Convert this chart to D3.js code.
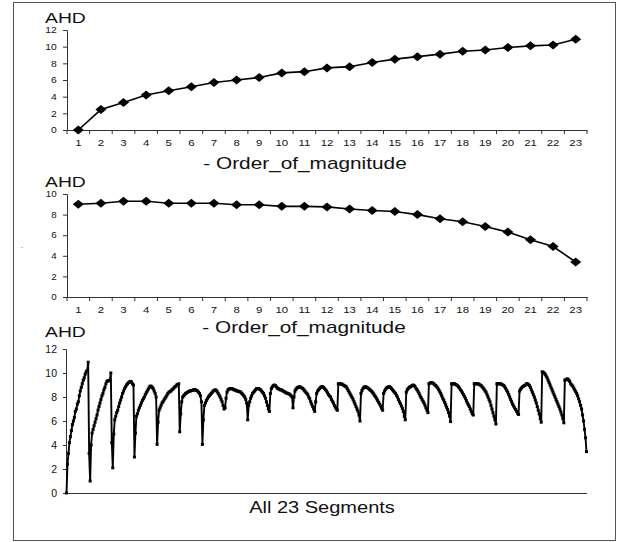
<!DOCTYPE html>
<html>
<head>
<meta charset="utf-8">
<script src="https://cdn.jsdelivr.net/npm/d3@7.9.0/dist/d3.min.js"></script>
<style>
  html, body { margin: 0; padding: 0; background: #fff; }
  svg { display: block; font-family: "Liberation Sans", Arial, Helvetica, sans-serif; }
</style>
</head>
<body>
<svg id="chart" width="622" height="542"></svg>
<script>
// ---- data ----
const orders = [1, 2, 3, 4, 5, 6, 7, 8, 9, 10, 11, 12, 13, 14, 15, 16, 17, 18, 19, 20, 21, 22, 23];
const firstSegmentAHD = [0, 2.45, 3.3, 4.2, 4.7, 5.2, 5.7, 6.0, 6.3, 6.85, 7.0, 7.45, 7.6, 8.1, 8.5, 8.8, 9.1, 9.45, 9.6, 9.9, 10.1, 10.2, 10.9];
const lastSegmentAHD = [9.0, 9.1, 9.3, 9.3, 9.1, 9.1, 9.1, 8.95, 8.95, 8.8, 8.8, 8.75, 8.55, 8.4, 8.3, 8.0, 7.6, 7.3, 6.85, 6.3, 5.55, 4.9, 3.4];

const topTicks = [0, 2, 4, 6, 8, 10, 12];
const midTicks = [0, 2, 4, 6, 8, 10];
const bottomTicks = [0, 2, 4, 6, 8, 10, 12];

// all 23 segments, 23 points each
const allSegments = [
  [0, 2.4, 3.3, 4.2, 4.7, 5.2, 5.7, 6.0, 6.3, 6.8, 7.0, 7.4, 7.6, 8.1, 8.5, 8.8, 9.1, 9.4, 9.6, 9.9, 10.1, 10.2, 10.9],
  [3.3, 1.0, 4.0, 5.0, 5.3, 5.6, 5.9, 6.2, 6.5, 6.9, 7.2, 7.5, 7.8, 8.1, 8.3, 8.6, 8.8, 9.1, 9.3, 9.35, 9.35, 9.4, 10.0],
  [4.2, 2.1, 4.9, 6.1, 6.4, 6.7, 6.9, 7.2, 7.5, 7.75, 8.0, 8.3, 8.5, 8.7, 8.85, 9.0, 9.1, 9.2, 9.25, 9.3, 9.25, 9.1, 9.0],
  [3.0, 5.0, 6.4, 6.6, 6.9, 7.1, 7.3, 7.5, 7.7, 7.85, 8.0, 8.2, 8.35, 8.5, 8.65, 8.8, 8.9, 8.9, 8.8, 8.7, 8.5, 8.3, 8.0],
  [4.05, 5.9, 6.9, 7.1, 7.3, 7.5, 7.6, 7.75, 7.9, 8.0, 8.15, 8.3, 8.4, 8.45, 8.5, 8.6, 8.65, 8.75, 8.85, 8.9, 9.0, 9.05, 9.1],
  [5.1, 6.6, 7.6, 8.0, 8.1, 8.2, 8.3, 8.35, 8.4, 8.45, 8.5, 8.5, 8.55, 8.55, 8.6, 8.6, 8.6, 8.55, 8.5, 8.4, 8.3, 8.1, 7.6],
  [4.05, 6.1, 7.3, 7.5, 7.7, 7.85, 8.0, 8.1, 8.2, 8.3, 8.4, 8.5, 8.55, 8.6, 8.55, 8.45, 8.3, 8.15, 8.0, 7.8, 7.6, 7.3, 7.0],
  [7.1, 7.9, 8.4, 8.6, 8.65, 8.7, 8.7, 8.7, 8.65, 8.6, 8.6, 8.55, 8.5, 8.5, 8.45, 8.45, 8.4, 8.3, 8.2, 8.1, 8.0, 7.8, 7.5],
  [6.1, 7.3, 7.6, 7.9, 8.1, 8.3, 8.4, 8.5, 8.6, 8.7, 8.7, 8.7, 8.65, 8.6, 8.5, 8.4, 8.3, 8.1, 7.9, 7.6, 7.3, 7.0, 6.8],
  [8.3, 8.7, 8.85, 8.95, 9.0, 8.95, 8.85, 8.75, 8.7, 8.65, 8.6, 8.6, 8.55, 8.5, 8.45, 8.4, 8.35, 8.3, 8.3, 8.25, 8.2, 8.1, 8.0],
  [7.1, 8.0, 8.5, 8.65, 8.75, 8.8, 8.85, 8.85, 8.8, 8.75, 8.7, 8.6, 8.5, 8.4, 8.3, 8.2, 8.0, 7.85, 7.6, 7.4, 7.2, 7.0, 6.8],
  [7.6, 8.3, 8.5, 8.6, 8.7, 8.8, 8.85, 8.85, 8.8, 8.7, 8.6, 8.5, 8.35, 8.2, 8.1, 8.0, 7.8, 7.65, 7.5, 7.3, 7.15, 7.0, 6.9],
  [9.1, 9.1, 9.1, 9.1, 9.05, 9.0, 8.95, 8.9, 8.85, 8.7, 8.55, 8.4, 8.25, 8.1, 7.95, 7.8, 7.6, 7.4, 7.2, 7.0, 6.8, 6.5, 6.0],
  [8.3, 8.55, 8.7, 8.8, 8.85, 8.85, 8.8, 8.75, 8.7, 8.6, 8.55, 8.45, 8.35, 8.25, 8.1, 8.0, 7.85, 7.7, 7.55, 7.4, 7.25, 7.05, 6.9],
  [8.3, 8.5, 8.65, 8.75, 8.8, 8.85, 8.85, 8.8, 8.7, 8.6, 8.5, 8.4, 8.3, 8.15, 8.0, 7.8, 7.6, 7.45, 7.25, 7.05, 6.8, 6.4, 6.1],
  [8.4, 8.6, 8.7, 8.8, 8.85, 8.9, 8.95, 9.0, 8.95, 8.85, 8.7, 8.6, 8.45, 8.3, 8.1, 7.95, 7.8, 7.65, 7.5, 7.3, 7.1, 6.9, 6.7],
  [9.1, 9.15, 9.2, 9.2, 9.15, 9.1, 9.0, 8.95, 8.85, 8.75, 8.6, 8.45, 8.3, 8.1, 7.9, 7.75, 7.55, 7.35, 7.15, 6.95, 6.7, 6.4, 5.95],
  [9.1, 9.1, 9.1, 9.1, 9.05, 9.0, 8.95, 8.85, 8.75, 8.6, 8.5, 8.35, 8.2, 8.05, 7.9, 7.7, 7.5, 7.35, 7.2, 7.0, 6.8, 6.6, 6.5],
  [9.1, 9.1, 9.1, 9.1, 9.1, 9.05, 9.0, 8.95, 8.85, 8.75, 8.65, 8.5, 8.4, 8.2, 8.0, 7.8, 7.6, 7.3, 7.0, 6.7, 6.4, 6.1, 5.75],
  [9.1, 9.1, 9.1, 9.1, 9.1, 9.05, 9.0, 8.95, 8.85, 8.7, 8.55, 8.4, 8.2, 8.0, 7.8, 7.6, 7.4, 7.25, 7.1, 6.95, 6.8, 6.65, 6.55],
  [8.5, 8.65, 8.75, 8.85, 8.9, 8.95, 9.0, 9.1, 9.1, 9.05, 8.95, 8.8, 8.6, 8.4, 8.2, 8.0, 7.75, 7.5, 7.2, 6.9, 6.6, 6.2, 5.9],
  [10.1, 10.05, 10.0, 9.9, 9.75, 9.6, 9.4, 9.2, 9.0, 8.8, 8.6, 8.4, 8.2, 8.0, 7.8, 7.6, 7.4, 7.2, 7.0, 6.75, 6.5, 6.2, 5.85],
  [9.4, 9.45, 9.5, 9.5, 9.4, 9.3, 9.1, 9.0, 8.9, 8.75, 8.6, 8.45, 8.3, 8.1, 7.85, 7.6, 7.3, 7.0, 6.5, 6.0, 5.3, 4.6, 3.45]
];

const svg = d3.select('#chart');

// ---- frame ----
svg.append('rect')
  .attr('x', 13.5).attr('y', 2.5)
  .attr('width', 602).attr('height', 538)
  .attr('fill', 'none')
  .attr('stroke', '#555')
  .attr('stroke-width', 1);

// stray dot left of the middle panel
svg.append('text').attr('x', 21).attr('y', 248)
  .attr('font-size', 8).attr('fill', '#444').text('.');

// stretched text helper (the original text is drawn wide)
function label(x, y, str, size, sx, anchor) {
  return svg.append('text')
    .attr('transform', `translate(${x},${y}) scale(${sx},1)`)
    .attr('text-anchor', anchor || 'middle')
    .attr('font-size', size)
    .attr('fill', '#111')
    .text(str);
}

// ---- small order-of-magnitude panels ----
function orderPanel(values, yMax, yTicks, top, bottom, tickFont) {
  const x = d3.scaleBand().domain(orders).range([67, 587]);
  const y = d3.scaleLinear().domain([0, yMax]).range([bottom, top]);
  const g = svg.append('g');

  // y axis
  const yAxis = g.append('g')
    .attr('transform', 'translate(67,0)')
    .call(d3.axisLeft(y).tickValues(yTicks).tickSize(4).tickPadding(5));
  yAxis.select('.domain').attr('stroke', '#333');
  yAxis.selectAll('.tick line').attr('stroke', '#333');
  yAxis.selectAll('.tick text')
    .attr('font-size', tickFont).attr('fill', '#111')
    .attr('font-family', '"Liberation Sans", Arial, sans-serif')
    .attr('transform', 'scale(1.15,1)');

  // x axis: labels at band centres, ticks at band edges
  const xAxis = g.append('g')
    .attr('transform', `translate(0,${bottom})`)
    .call(d3.axisBottom(x).tickSize(0).tickPadding(9));
  xAxis.select('.domain').attr('stroke', '#333');
  xAxis.selectAll('.tick text')
    .attr('font-size', 9.5).attr('fill', '#111')
    .attr('font-family', '"Liberation Sans", Arial, sans-serif')
    .attr('transform', 'scale(1.2,1)');
  const edges = orders.map(d => x(d)).concat([x.range()[1]]);
  g.selectAll('line.edge').data(edges).join('line')
    .attr('class', 'edge')
    .attr('x1', d => d).attr('x2', d => d)
    .attr('y1', bottom).attr('y2', bottom + 4)
    .attr('stroke', '#333');

  // line + diamonds
  const pts = values.map((v, i) => [x(orders[i]) + x.bandwidth() / 2, y(v)]);
  g.append('path')
    .attr('d', d3.line()(pts))
    .attr('fill', 'none')
    .attr('stroke', '#000')
    .attr('stroke-width', 1.6);
  g.selectAll('path.marker').data(pts).join('path')
    .attr('class', 'marker')
    .attr('d', ([px, py]) => `M${px - 5.5},${py}L${px},${py - 4.5}L${px + 5.5},${py}L${px},${py + 4.5}Z`)
    .attr('fill', '#000');
}

orderPanel(firstSegmentAHD, 12, topTicks, 30, 130, 9);
label(45, 23, 'AHD', 14, 1.38, 'start');
label(305, 169, '- Order_of_magnitude', 16, 1.3);

orderPanel(lastSegmentAHD, 10, midTicks, 194, 297, 8.5);
label(45, 187, 'AHD', 14, 1.38, 'start');
label(304, 333, '- Order_of_magnitude', 16, 1.3);

// ---- all 23 segments ----
const flat = allSegments.flat();
const xs = d3.scaleLinear().domain([-0.5, flat.length - 0.5]).range([66, 587]);
const ys = d3.scaleLinear().domain([0, 12]).range([493, 349]);
const gb = svg.append('g');

const yAxisB = gb.append('g')
  .attr('transform', 'translate(66,0)')
  .call(d3.axisLeft(ys).tickValues(bottomTicks).tickSize(3).tickPadding(6));
yAxisB.select('.domain').attr('stroke', '#333');
yAxisB.selectAll('.tick line').attr('stroke', '#333');
yAxisB.selectAll('.tick text')
  .attr('font-size', 10.5).attr('fill', '#111')
  .attr('font-family', '"Liberation Sans", Arial, sans-serif');

gb.append('line')
  .attr('x1', 66).attr('x2', 587)
  .attr('y1', ys(0) + 0.5).attr('y2', ys(0) + 0.5)
  .attr('stroke', '#333');

gb.append('path')
  .attr('d', d3.line().x((d, i) => xs(i)).y(d => ys(d))(flat))
  .attr('fill', 'none')
  .attr('stroke', '#000')
  .attr('stroke-width', 1.9)
  .attr('stroke-linejoin', 'round');
gb.selectAll('rect.pt').data(flat).join('rect')
  .attr('class', 'pt')
  .attr('x', (d, i) => xs(i) - 1.5)
  .attr('y', d => ys(d) - 1.5)
  .attr('width', 3).attr('height', 3)
  .attr('fill', '#000');

label(45, 337, 'AHD', 14, 1.38, 'start');
label(322, 513, 'All 23 Segments', 16, 1.25);
</script>
</body>
</html>
